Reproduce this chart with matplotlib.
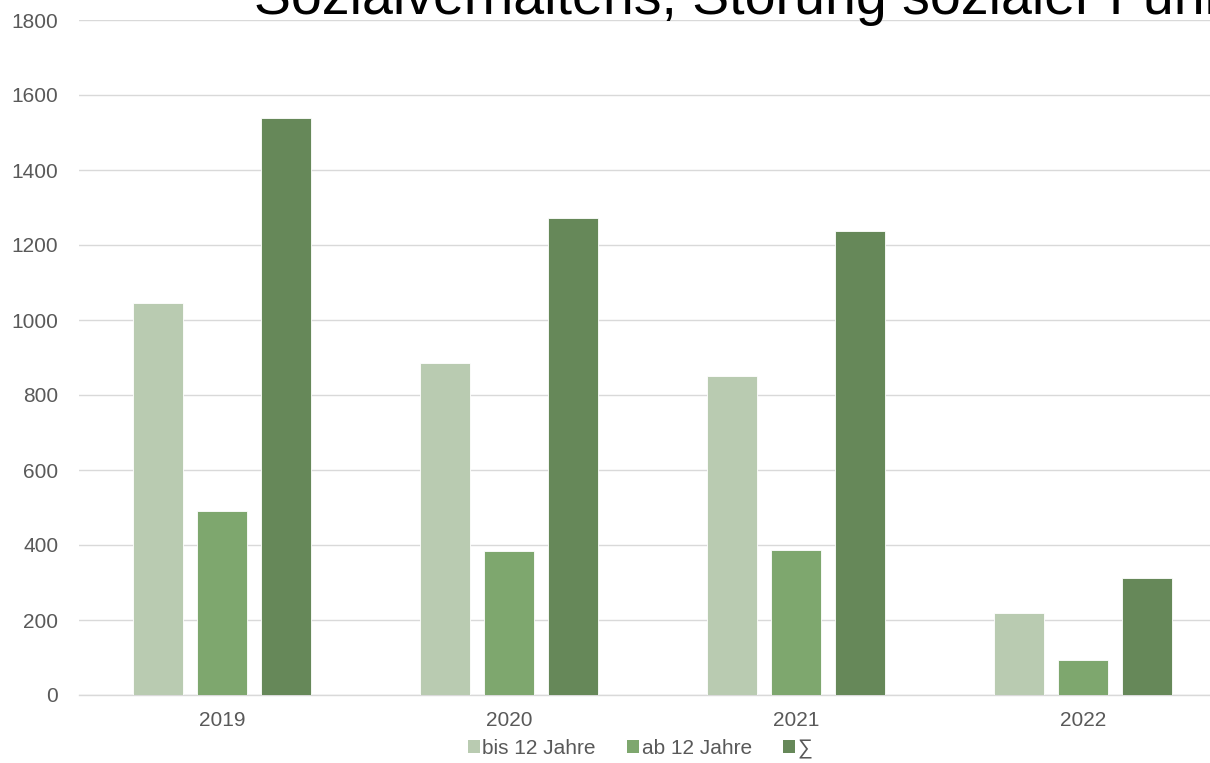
import matplotlib
matplotlib.use("Agg")
import matplotlib.pyplot as plt
from matplotlib.patches import Patch
import numpy as np

plt.rcParams["font.family"] = ["Liberation Sans", "DejaVu Sans"]

years = ["2019", "2020", "2021", "2022"]
series_names = ["bis 12 Jahre", "ab 12 Jahre", "∑"]
bis_12 = [1046, 886, 851, 220]
ab_12 = [492, 385, 387, 93]
total = [1539, 1271, 1238, 312]
colors = ["#b9cbb1", "#7ea76e", "#668859"]
y_ticks = [0, 200, 400, 600, 800, 1000, 1200, 1400, 1600, 1800]

W, H = 1210, 763
fig = plt.figure(figsize=(W / 100, H / 100), dpi=100)
fig.patch.set_facecolor("white")

# plot area spans beyond the right figure edge
left, right, bottom, top = 78.5, 1226.5, 695, 20
ax = fig.add_axes([left / W, 1 - bottom / H, (right - left) / W, (bottom - top) / H])

x = np.arange(len(years))
width = 0.174
step = 0.223
for i, (vals, col) in enumerate(zip([bis_12, ab_12, total], colors)):
    ax.bar(x + (i - 1) * step, vals, width=width, color=col,
           edgecolor="white", linewidth=0.6, zorder=3)

ax.set_xlim(-0.5, len(years) - 0.5)
ax.set_ylim(0, 1800)
ax.set_yticks(y_ticks)
ax.set_xticks(x)
ax.set_xticklabels(years)
ax.tick_params(axis="both", length=0, labelsize=15, colors="#595959")
ax.tick_params(axis="y", pad=14.5)
ax.tick_params(axis="x", pad=11.5)
ax.grid(axis="y", color="#d9d9d9", linewidth=1.0, zorder=0)
for side in ["left", "right", "top"]:
    ax.spines[side].set_visible(False)
ax.spines["bottom"].set_color("#d9d9d9")
ax.spines["bottom"].set_linewidth(1.0)
ax.set_facecolor("none")

# title line, partly outside the top edge
fig.text(254 / W, 1 - 13.5 / H, "Sozialverhaltens, Störung sozialer Funktionen",
         fontsize=40, color="black", ha="left", va="baseline")

handles = [Patch(facecolor=c, edgecolor="none") for c in colors]
fig.legend(handles, series_names, loc="center", bbox_to_anchor=(640 / W, 1 - 749 / H),
           ncol=3, frameon=False, fontsize=15, labelcolor="#595959",
           handlelength=0.58, handleheight=0.58, handletextpad=0.12, columnspacing=1.5)

fig.savefig("out.png", dpi=100, facecolor="white")
